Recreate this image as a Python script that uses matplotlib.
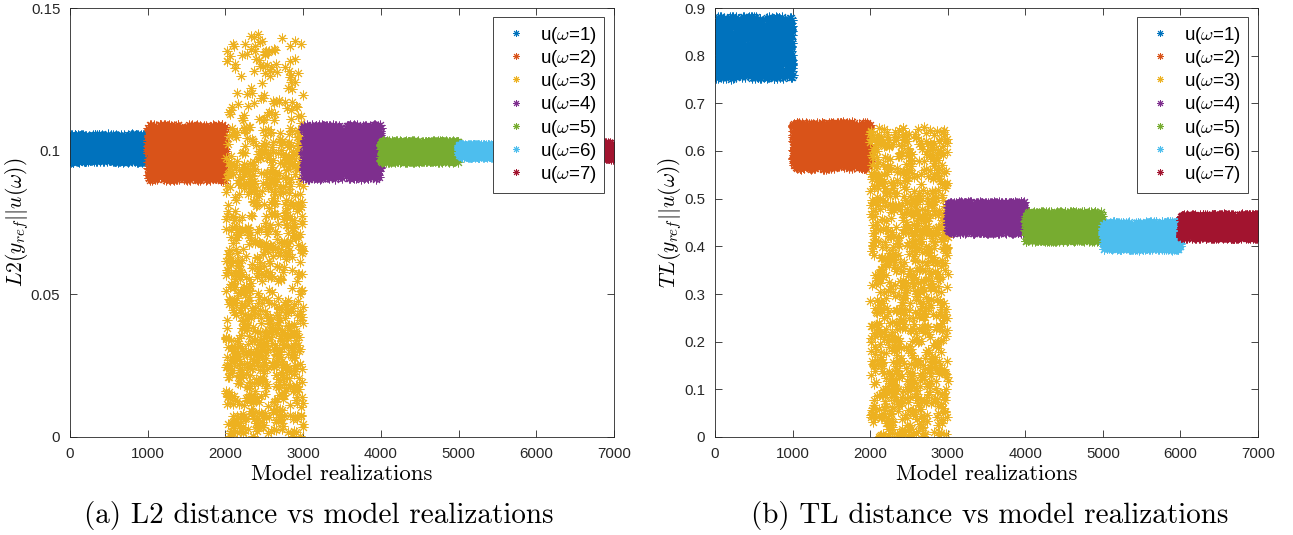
import numpy as np
import matplotlib.pyplot as plt

plt.rcParams['mathtext.fontset'] = 'cm'
plt.rcParams['font.family'] = ['Liberation Sans', 'DejaVu Sans']

# 1000 model realizations per omega value
n_per = 1000
labels = ['u($\\omega$=%d)' % k for k in range(1, 8)]
colors = ['#0072BD', '#D95319', '#EDB120', '#7E2F8E', '#77AC30', '#4DBEEE', '#A2142F']

# band limits (lower, upper) for each omega
l2_low = [0.0962, 0.0897, 0.0, 0.0902, 0.0962, 0.0978, 0.0972]
l2_high = [0.1058, 0.1092, 0.1050, 0.1092, 0.1035, 0.1022, 0.1028]
# omega=3 in L2 has a thin tail above the main band
l2_tail = (0.105, 0.141, 120)

tl_low = [0.752, 0.563, 0.0, 0.428, 0.411, 0.393, 0.417]
tl_high = [0.882, 0.660, 0.650, 0.493, 0.473, 0.451, 0.467]

rng = np.random.default_rng(7)


def band(k, lo, hi, tail=None):
    x = np.arange(1, n_per + 1) + k * n_per
    y = lo + (hi - lo) * rng.random(n_per)
    if tail is not None:
        t0, t1, m = tail
        idx = rng.choice(n_per, m, replace=False)
        y[idx] = t0 + (t1 - t0) * rng.random(m)
    return x, y


fig = plt.figure(figsize=(12.93, 5.35), dpi=100)
ax1 = fig.add_axes([70 / 1293, 98 / 535, 544 / 1293, 429 / 535])
ax2 = fig.add_axes([715 / 1293, 98 / 535, 543 / 1293, 429 / 535])

ast = (8, 2, 0)
for k in range(7):
    x, y = band(k, l2_low[k], l2_high[k], l2_tail if k == 2 else None)
    ax1.plot(x, y, linestyle='none', marker=ast, ms=7, mew=0.7,
             color=colors[k], label=labels[k])
    x, y = band(k, tl_low[k], tl_high[k])
    ax2.plot(x, y, linestyle='none', marker=ast, ms=7, mew=0.7,
             color=colors[k], label=labels[k])

axc = '#262626'
for ax in (ax1, ax2):
    ax.set_xlim(0, 7000)
    ax.set_xticks(range(0, 7001, 1000))
    ax.tick_params(direction='in', top=True, right=True, length=5, width=0.6,
                   colors=axc, labelsize=10.8, pad=7)
    for s in ax.spines.values():
        s.set_color(axc)
        s.set_linewidth(0.6)
    ax.set_xlabel('Model realizations', fontfamily='cmr10', fontsize=16.4,
                  color='black', labelpad=3)
    leg = ax.legend(loc='upper right', bbox_to_anchor=(0.982, 0.979),
                    borderaxespad=0, fontsize=13.5, labelspacing=0.12,
                    handlelength=1.6, handletextpad=0.5, borderpad=0.4,
                    fancybox=False, edgecolor=axc, framealpha=1,
                    markerscale=0.7)
    leg.get_frame().set_linewidth(0.6)

ax1.set_ylim(0, 0.15)
ax1.set_yticks([0, 0.05, 0.1, 0.15])
ax1.set_yticklabels(['0', '0.05', '0.1', '0.15'])
ax1.set_ylabel('$L2(y_{ref}||u(\\omega))$', fontsize=15.5, labelpad=0)

ax2.set_ylim(0, 0.9)
ax2.set_yticks(np.arange(0, 0.91, 0.1))
ax2.set_yticklabels(['0'] + ['%.1f' % v for v in np.arange(0.1, 0.91, 0.1)])
ax2.set_ylabel('$TL(y_{ref}||u(\\omega))$', fontsize=15.5, labelpad=0)

fig.text(319 / 1293, 1 - 515 / 535, '(a) L2 distance vs model realizations',
         fontfamily='cmr10', fontsize=21, ha='center', va='center')
fig.text(990 / 1293, 1 - 515 / 535, '(b) TL distance vs model realizations',
         fontfamily='cmr10', fontsize=21, ha='center', va='center')

fig.savefig('out.png', dpi=100)
